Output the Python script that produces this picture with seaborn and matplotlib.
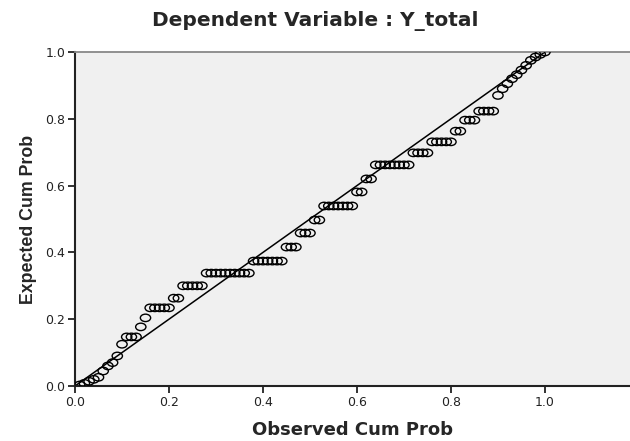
import numpy as np
import pandas as pd
import seaborn as sns
import matplotlib.pyplot as plt
from matplotlib.path import Path

# Observed vs expected cumulative probability (normal P-P plot of residuals)
observed = [0.01, 0.02, 0.03, 0.04, 0.05,
            0.06, 0.07, 0.08,
            0.09, 0.10,
            0.11, 0.12, 0.13,
            0.14, 0.15,
            0.16, 0.17, 0.18, 0.19, 0.20,
            0.21, 0.22,
            0.23, 0.24, 0.25, 0.26, 0.27,
            0.28, 0.29, 0.30, 0.31, 0.32, 0.33, 0.34, 0.35, 0.36, 0.37,
            0.38, 0.39, 0.40, 0.41, 0.42, 0.43, 0.44,
            0.45, 0.46, 0.47,
            0.48, 0.49, 0.50,
            0.51, 0.52,
            0.53, 0.54, 0.55, 0.56, 0.57, 0.58, 0.59,
            0.60, 0.61,
            0.62, 0.63,
            0.64, 0.65, 0.66, 0.67, 0.68, 0.69, 0.70, 0.71,
            0.72, 0.73, 0.74, 0.75,
            0.76, 0.77, 0.78, 0.79, 0.80,
            0.81, 0.82,
            0.83, 0.84, 0.85,
            0.86, 0.87, 0.88, 0.89,
            0.90, 0.91, 0.92, 0.93, 0.94, 0.95, 0.96, 0.97, 0.98, 0.99, 1.00]
expected = [0.003, 0.008, 0.014, 0.020, 0.026,
            0.045, 0.060, 0.070,
            0.090, 0.125,
            0.147, 0.147, 0.147,
            0.177, 0.204,
            0.234, 0.234, 0.234, 0.234, 0.234,
            0.263, 0.263,
            0.300, 0.300, 0.300, 0.300, 0.300,
            0.338, 0.338, 0.338, 0.338, 0.338, 0.338, 0.338, 0.338, 0.338, 0.338,
            0.374, 0.374, 0.374, 0.374, 0.374, 0.374, 0.374,
            0.416, 0.416, 0.416,
            0.458, 0.458, 0.458,
            0.497, 0.497,
            0.539, 0.539, 0.539, 0.539, 0.539, 0.539, 0.539,
            0.581, 0.581,
            0.620, 0.620,
            0.662, 0.662, 0.662, 0.662, 0.662, 0.662, 0.662, 0.662,
            0.698, 0.698, 0.698, 0.698,
            0.731, 0.731, 0.731, 0.731, 0.731,
            0.763, 0.763,
            0.796, 0.796, 0.796,
            0.823, 0.823, 0.823, 0.823,
            0.870, 0.890, 0.905, 0.920, 0.932, 0.946, 0.960, 0.975, 0.985, 0.993, 1.000]
ref_line = [0.0, 1.0]
ticks = [0.0, 0.2, 0.4, 0.6, 0.8, 1.0]

df = pd.DataFrame({'Observed Cum Prob': observed, 'Expected Cum Prob': expected})

sns.set_style("ticks")
plt.rcParams['font.family'] = ['DejaVu Sans']

fig = plt.figure(figsize=(6.3, 4.41), dpi=100)
ax = fig.add_axes([75/630, 55/441, 1 - 75/630, 334/441])
ax.set_facecolor('#f0f0f0')

# slightly flattened open circles, like the SPSS output
circ = Path.unit_circle()
ell = Path(circ.vertices * np.array([1.0, 0.72]), circ.codes)

ax.plot(ref_line, ref_line, color='black', lw=1.1, zorder=2)
sns.scatterplot(data=df, x='Observed Cum Prob', y='Expected Cum Prob', ax=ax,
                marker=ell, s=55, facecolor='none', edgecolor='black',
                linewidth=1.0, zorder=3)

ax.set_xlim(0, 1.181)
ax.set_ylim(0, 1.0)
ax.set_xticks(ticks)
ax.set_yticks(ticks)
ax.set_xticklabels([f'{t:.1f}' for t in ticks], fontsize=9, color='#222222')
ax.set_yticklabels([f'{t:.1f}' for t in ticks], fontsize=9, color='#222222')
ax.tick_params(length=5, width=1.3, color='#222222', pad=2)

for s in ['left', 'bottom']:
    ax.spines[s].set_color('#222222')
    ax.spines[s].set_linewidth(1.5)
ax.spines['top'].set_color('#888888')
ax.spines['top'].set_linewidth(1.3)
ax.spines['right'].set_visible(False)

ax.set_xlabel('Observed Cum Prob', fontsize=13, fontweight='bold', labelpad=9)
ax.set_ylabel('Expected Cum Prob', fontsize=12.8, fontweight='bold', labelpad=6,
              family=['Liberation Sans', 'DejaVu Sans'])
fig.text(0.5, 0.953, 'Dependent Variable : Y_total', ha='center', va='center',
         fontsize=14.5, fontweight='bold')

fig.savefig('out.png', dpi=100)
